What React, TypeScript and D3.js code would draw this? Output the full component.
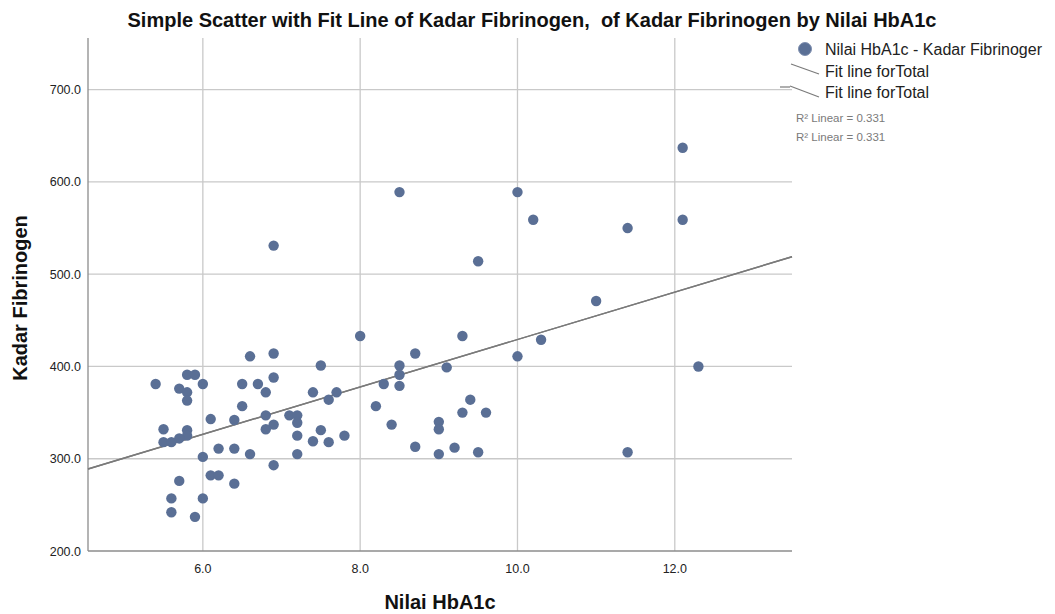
import React from "react";
import * as d3 from "d3";

const hba1c: number[] = [
  12.1, 8.5, 10.0, 10.2, 12.1, 11.4, 6.9, 9.5, 11.0, 8.0, 9.3, 10.3, 8.7, 6.6, 6.9, 10.0,
  7.5, 8.5, 12.3, 9.1, 5.8, 5.9, 8.5, 6.9, 5.4, 6.0, 6.5, 6.7, 8.3, 8.5, 5.7, 5.8, 6.8,
  7.4, 7.7, 5.8, 7.6, 9.4, 6.5, 8.2, 6.1, 6.4, 6.8, 7.1, 7.2, 9.3, 9.6, 7.2, 9.0, 8.4,
  6.9, 5.5, 6.8, 9.0, 5.8, 7.5, 5.8, 7.2, 7.8, 5.7, 5.5, 5.6, 7.4, 7.6, 8.7, 9.2, 6.2,
  6.4, 11.4, 9.5, 6.6, 7.2, 9.0, 6.0, 6.9, 6.1, 6.2, 5.7, 6.4, 5.6, 6.0, 5.6, 5.9,
];
const fibrinogen: number[] = [
  637, 589, 589, 559, 559, 550, 531, 514, 471, 433, 433, 429, 414, 411, 414, 411,
  401, 401, 400, 399, 391, 391, 391, 388, 381, 381, 381, 381, 381, 379, 376, 372, 372,
  372, 372, 363, 364, 364, 357, 357, 343, 342, 347, 347, 347, 350, 350, 339, 340, 337,
  337, 332, 332, 332, 331, 331, 325, 325, 325, 322, 318, 318, 319, 318, 313, 312, 311,
  311, 307, 307, 305, 305, 305, 302, 293, 282, 282, 276, 273, 257, 257, 242, 237,
];
const xTicks: number[] = [6, 8, 10, 12];
const yTicks: number[] = [200, 300, 400, 500, 600, 700];
const fitIntercept = 172.2;
const fitSlope = 25.7;
const legendLabels: string[] = ["Nilai HbA1c - Kadar Fibrinoger", "Fit line forTotal", "Fit line forTotal"];
const rSquaredLabels: string[] = ["R² Linear = 0.331", "R² Linear = 0.331"];

const title = "Simple Scatter with Fit Line of Kadar Fibrinogen,  of Kadar Fibrinogen by Nilai HbA1c";
const xLabel = "Nilai HbA1c";
const yLabel = "Kadar Fibrinogen";

const W = 1055;
const H = 614;
const left = 88, right = 792, top = 38, bottom = 551;
const font = "Arial, 'Liberation Sans', sans-serif";
const pointColor = "#5a6f95";

export default function App() {
  const x = d3.scaleLinear().domain([4.54, 13.49]).range([left, right]);
  const y = d3.scaleLinear().domain([200, 756]).range([bottom, top]);
  const [x0, x1] = x.domain();
  const line = d3.line<number>().x((d) => x(d)).y((d) => y(fitIntercept + fitSlope * d));
  const fitPath = line([x0, x1]) || "";

  return (
    <svg width={W} height={H} style={{ position: "absolute", left: 0, top: 0, background: "#fff" }}>
      <rect x={0} y={0} width={W} height={H} fill="#fff" />
      <text x={532} y={27} textAnchor="middle" fontFamily={font} fontSize={20} fontWeight="bold" fill="#111" style={{ whiteSpace: "pre" }}>
        {title}
      </text>
      {/* grid */}
      {yTicks.filter((t) => t !== 200).map((t) => (
        <line key={"gy" + t} x1={left} x2={right} y1={y(t)} y2={y(t)} stroke="#c9c9c9" strokeWidth={1.3} />
      ))}
      {xTicks.map((t) => (
        <line key={"gx" + t} x1={x(t)} x2={x(t)} y1={top} y2={bottom} stroke="#c9c9c9" strokeWidth={1.3} />
      ))}
      {/* axes */}
      <line x1={left} x2={left} y1={top} y2={bottom} stroke="#8c8c8c" strokeWidth={1.3} />
      <line x1={left} x2={right} y1={bottom} y2={bottom} stroke="#8c8c8c" strokeWidth={1.3} />
      {/* tick labels */}
      {yTicks.map((t) => (
        <text key={"ty" + t} x={81} y={y(t) + 4.5} textAnchor="end" fontFamily={font} fontSize={12.5} fill="#222">
          {d3.format(".1f")(t)}
        </text>
      ))}
      {xTicks.map((t) => (
        <text key={"tx" + t} x={x(t)} y={573} textAnchor="middle" fontFamily={font} fontSize={12.5} fill="#222">
          {d3.format(".1f")(t)}
        </text>
      ))}
      {/* axis titles */}
      <text x={440} y={609} textAnchor="middle" fontFamily={font} fontSize={20} fontWeight="bold" fill="#111">
        {xLabel}
      </text>
      <text
        transform={`translate(27,${298}) rotate(-90)`}
        textAnchor="middle"
        fontFamily={font}
        fontSize={20}
        fontWeight="bold"
        fill="#111"
      >
        {yLabel}
      </text>
      {/* fit lines */}
      <path d={fitPath} stroke="#7a7a7a" strokeWidth={1.4} fill="none" />
      <path d={fitPath} stroke="#7a7a7a" strokeWidth={1.4} fill="none" />
      {/* points */}
      {hba1c.map((v, i) => (
        <circle key={"p" + i} cx={x(v)} cy={y(fibrinogen[i])} r={5.2} fill={pointColor} />
      ))}
      {/* legend */}
      <circle cx={805} cy={49} r={6.5} fill={pointColor} stroke="#8090b0" strokeWidth={1} />
      <text x={825} y={55} fontFamily={font} fontSize={16} fill="#222">{legendLabels[0]}</text>
      <line x1={791} y1={64} x2={819} y2={74} stroke="#7a7a7a" strokeWidth={1.2} />
      <text x={825} y={77} fontFamily={font} fontSize={16} fill="#222">{legendLabels[1]}</text>
      <line x1={780} y1={87} x2={790} y2={87} stroke="#7a7a7a" strokeWidth={1.2} />
      <line x1={790} y1={86} x2={819} y2={97} stroke="#7a7a7a" strokeWidth={1.2} />
      <text x={825} y={98} fontFamily={font} fontSize={16} fill="#222">{legendLabels[2]}</text>
      {rSquaredLabels.map((s, i) => (
        <text key={"r" + i} x={796} y={122 + i * 19} fontFamily={font} fontSize={11.5} fill="#7a7a7a">
          {s}
        </text>
      ))}
    </svg>
  );
}
